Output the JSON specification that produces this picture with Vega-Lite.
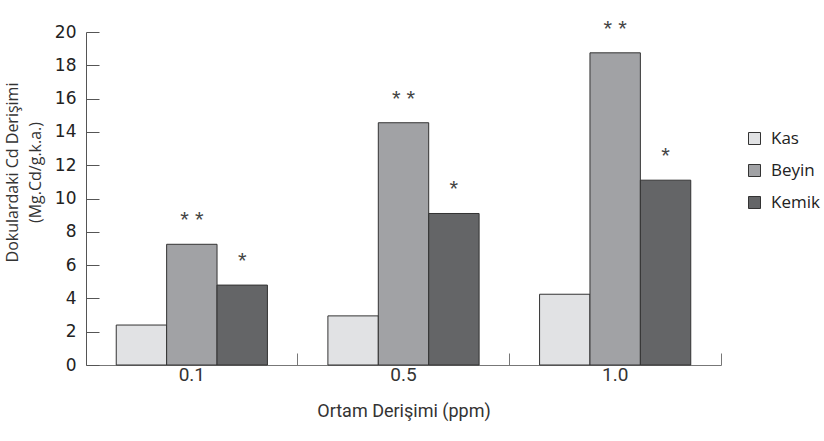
{
  "$schema": "https://vega.github.io/schema/vega-lite/v6.json",
  "autosize": "none",
  "padding": {"left": 86, "top": 32, "right": 103, "bottom": 76},
  "width": 635,
  "height": 333,
  "config": {
    "view": {"stroke": null},
    "font": "Liberation Sans"
  },
  "data": {
    "values": [
      {"conc": "0.1", "series": "Kas", "value": 2.4, "star": ""},
      {"conc": "0.1", "series": "Beyin", "value": 7.25, "star": "* *"},
      {"conc": "0.1", "series": "Kemik", "value": 4.8, "star": "*"},
      {"conc": "0.5", "series": "Kas", "value": 2.95, "star": ""},
      {"conc": "0.5", "series": "Beyin", "value": 14.55, "star": "* *"},
      {"conc": "0.5", "series": "Kemik", "value": 9.1, "star": "*"},
      {"conc": "1.0", "series": "Kas", "value": 4.25, "star": ""},
      {"conc": "1.0", "series": "Beyin", "value": 18.75, "star": "* *"},
      {"conc": "1.0", "series": "Kemik", "value": 11.1, "star": "*"}
    ]
  },
  "encoding": {
    "x": {
      "field": "conc",
      "type": "nominal",
      "sort": ["0.1", "0.5", "1.0"],
      "scale": {"paddingInner": 0, "paddingOuter": 0},
      "axis": {
        "title": "Ortam Derişimi (ppm)",
        "bandPosition": 1,
        "tickSize": -12,
        "labelOffset": 0,
        "labelAngle": 0,
        "labelFont": "Roboto",
        "labelFontSize": 19,
        "labelColor": "#333",
        "labelPadding": 12,
        "domainColor": "#777",
        "tickColor": "#777",
        "titleFont": "Roboto",
        "titleFontSize": 18,
        "titleFontWeight": "normal",
        "titleColor": "#333",
        "titlePadding": 18
      }
    },
    "xOffset": {
      "field": "series",
      "type": "nominal",
      "sort": ["Kas", "Beyin", "Kemik"],
      "scale": {"domain": ["Kas", "Beyin", "Kemik"], "paddingInner": 0, "paddingOuter": 0.6}
    },
    "y": {
      "field": "value",
      "type": "quantitative",
      "scale": {"domain": [0, 20]},
      "axis": {
        "values": [0, 2, 4, 6, 8, 10, 12, 14, 16, 18, 20],
        "grid": false,
        "tickSize": -13,
        "labelPadding": 23,
        "labelFont": "DejaVu Sans",
        "labelFontSize": 17,
        "labelColor": "#222",
        "domainColor": "#555",
        "tickColor": "#555",
        "title": ["Dokulardaki Cd Derişimi", "(Mg.Cd/g.k.a.)"],
        "titleFont": "Open Sans",
        "titleFontSize": 16,
        "titleFontWeight": "normal",
        "titleColor": "#333",
        "titleX": -82,
        "titleY": 140,
        "titleAlign": "center",
        "titleBaseline": "top",
        "titleLineHeight": 23
      }
    }
  },
  "layer": [
    {
      "mark": {"type": "bar", "stroke": "#333", "strokeWidth": 1},
      "encoding": {
        "color": {
          "field": "series",
          "type": "nominal",
          "sort": ["Kas", "Beyin", "Kemik"],
          "scale": {"domain": ["Kas", "Beyin", "Kemik"], "range": ["#e1e2e4", "#a1a2a5", "#646567"]},
          "legend": {
            "orient": "none",
            "legendX": 660,
            "legendY": 98,
            "title": null,
            "padding": 0,
            "symbolType": "square",
            "symbolSize": 144,
            "symbolStrokeColor": "#333",
            "symbolStrokeWidth": 1,
            "labelFont": "Open Sans",
            "labelFontSize": 17,
            "labelColor": "#222",
            "labelOffset": 8,
            "rowPadding": 14
          }
        }
      }
    },
    {
      "mark": {"type": "text", "baseline": "bottom", "dy": -12, "fontSize": 22, "color": "#444"},
      "encoding": {"text": {"field": "star"}}
    }
  ]
}
